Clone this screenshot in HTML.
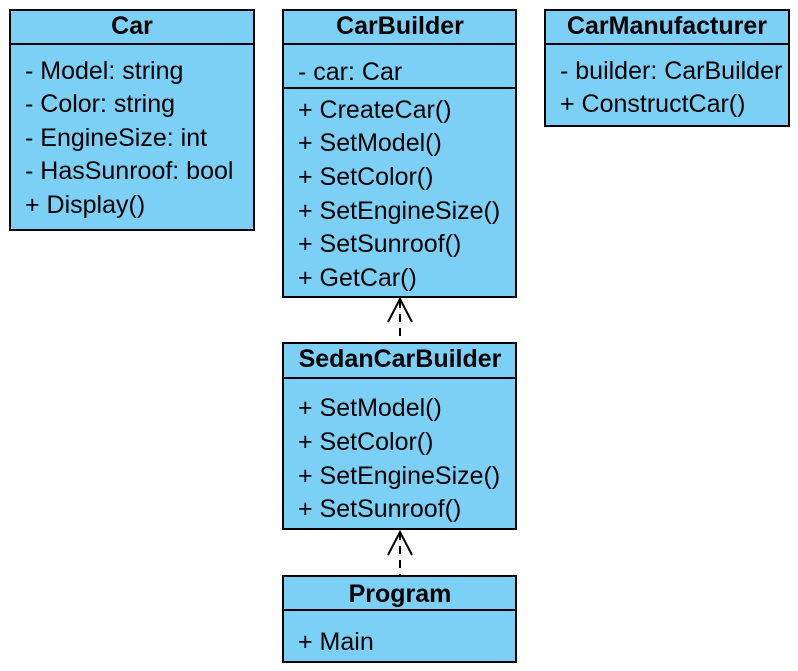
<!DOCTYPE html>
<html><head><meta charset="utf-8"><style>body{margin:0;background:#fff}svg{display:block}text{font-family:"Liberation Sans",Arial,sans-serif;font-size:25px;fill:#000}.h{font-weight:bold;text-anchor:middle}</style></head><body>
<svg width="798" height="671" viewBox="0 0 798 671">
<g fill="#7ccff5" stroke="#000" stroke-width="2">
<rect x="10" y="10" width="244" height="220"/><line x1="10" y1="44" x2="254" y2="44"/>
<rect x="283" y="10" width="233" height="287"/><line x1="283" y1="44" x2="516" y2="44"/><line x1="283" y1="88" x2="516" y2="88"/>
<rect x="545" y="10" width="244" height="116"/><line x1="545" y1="44" x2="789" y2="44"/>
<rect x="283" y="343" width="233" height="186"/><line x1="283" y1="378" x2="516" y2="378"/>
<rect x="283" y="576" width="233" height="86"/><line x1="283" y1="610" x2="516" y2="610"/>
</g>
<g stroke="#000" stroke-width="2" fill="none">
<line x1="400" y1="300" x2="400" y2="343" stroke-dasharray="8,6"/>
<polyline points="388,322 400,299 412,322"/>
<line x1="400" y1="532" x2="400" y2="576" stroke-dasharray="8,6"/>
<polyline points="388,555 400,532 412,555"/>
</g>
<text class="h" x="132" y="34">Car</text>
<text x="25" y="79">- Model: string</text>
<text x="25" y="112">- Color: string</text>
<text x="25" y="146">- EngineSize: int</text>
<text x="25" y="179">- HasSunroof: bool</text>
<text x="25" y="213">+ Display()</text>
<text class="h" x="400" y="34">CarBuilder</text>
<text x="298" y="80">- car: Car</text>
<text x="298" y="118">+ CreateCar()</text>
<text x="298" y="151">+ SetModel()</text>
<text x="298" y="185">+ SetColor()</text>
<text x="298" y="219">+ SetEngineSize()</text>
<text x="298" y="252">+ SetSunroof()</text>
<text x="298" y="286">+ GetCar()</text>
<text class="h" x="667" y="34">CarManufacturer</text>
<text x="560" y="79">- builder: CarBuilder</text>
<text x="560" y="112">+ ConstructCar()</text>
<text class="h" x="400" y="367">SedanCarBuilder</text>
<text x="298" y="416">+ SetModel()</text>
<text x="298" y="450">+ SetColor()</text>
<text x="298" y="484">+ SetEngineSize()</text>
<text x="298" y="517">+ SetSunroof()</text>
<text class="h" x="400" y="602">Program</text>
<text x="298" y="650">+ Main</text>
</svg>
</body></html>
